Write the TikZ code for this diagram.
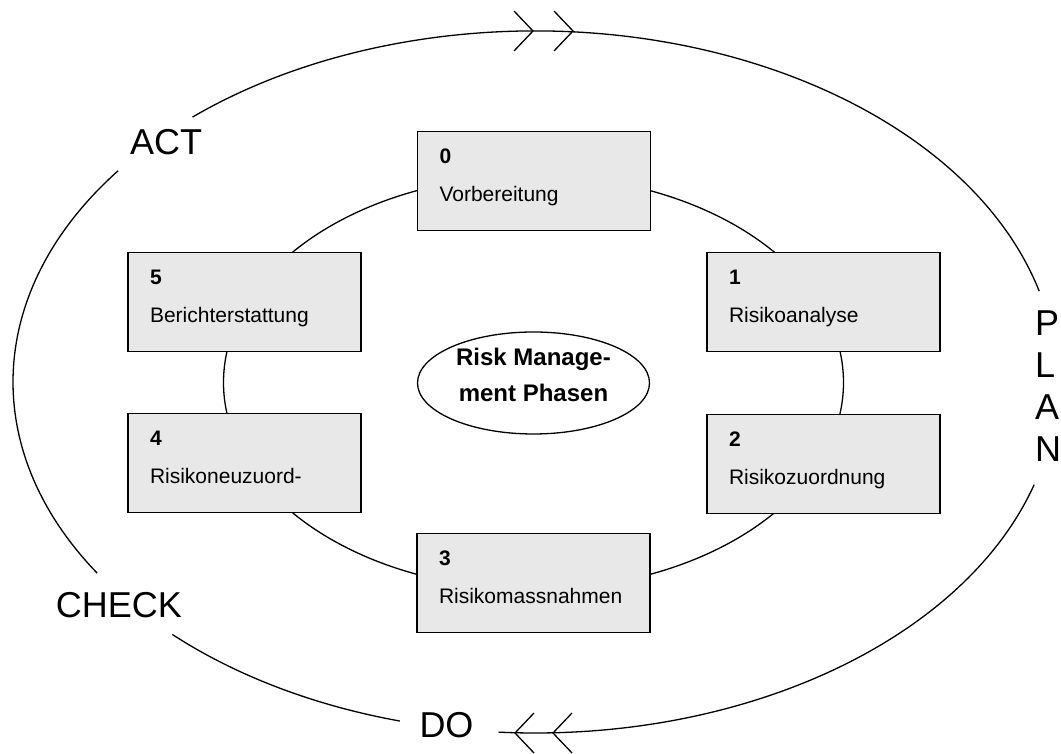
\documentclass[tikz,border=0pt]{standalone}
\usepackage{fontspec}
\setmainfont{Liberation Sans}
\usetikzlibrary{shapes.geometric}
\definecolor{phasegray}{RGB}{232,232,232}

\begin{document}
\begin{tikzpicture}[x=1pt, y=1pt,
  phasebox/.style={draw, line width=1.5pt, fill=phasegray, minimum width=233pt,
    text width=189pt, align=left, inner xsep=22pt, inner ysep=0pt,
    text height=32pt, text depth=67pt, font=\fontsize{21}{38}\selectfont},
  cyclelabel/.style={font=\fontsize{36}{42}\selectfont, inner sep=0pt},
  ringline/.style={line width=1.3pt}]
\useasboundingbox (0,0) rectangle (1061,754);
% Inner ring, behind the phase boxes
\draw[ringline] (533.5,371.5) ellipse [x radius=310, y radius=207];
% Outer PDCA ring, broken where the labels sit
\coordinate (ring) at (535,372);
\draw[ringline] (ring) ++(15:522 and 351) arc[start angle=15, end angle=131, x radius=522, y radius=351];
\draw[ringline] (ring) ++(143:522 and 351) arc[start angle=143, end angle=213, x radius=522, y radius=351];
\draw[ringline] (ring) ++(226:522 and 351) arc[start angle=226, end angle=255, x radius=522, y radius=351];
\draw[ringline] (ring) ++(266:522 and 351) arc[start angle=266, end angle=343, x radius=522, y radius=351];
% Direction marks
\draw[ringline] (514,743) -- (533,723) -- (514,703);
\draw[ringline] (554,743) -- (573,723) -- (554,703);
\draw[ringline] (534,41) -- (515,21) -- (534,1);
\draw[ringline] (572,41) -- (553,21) -- (572,1);
% Phases
\node[phasebox] (p0) at (534,573) {\textbf{0}\\Vorbereitung};
\node[phasebox] (p1) at (823.5,452) {\textbf{1}\\Risikoanalyse};
\node[phasebox] (p2) at (823.5,290) {\textbf{2}\\Risikozuordnung};
\node[phasebox] (p3) at (533.5,171) {\textbf{3}\\Risikomassnahmen};
\node[phasebox] (p4) at (244.5,291) {\textbf{4}\\Risikoneuzuord-};
\node[phasebox] (p5) at (244.5,452) {\textbf{5}\\Berichterstattung};
\node[ellipse, draw, ringline, minimum width=232pt, minimum height=102pt] (core) at (533.5,371) {};
\node[align=center, inner sep=0pt, font=\bfseries\fontsize{24}{36}\selectfont] (coretitle)
  at ([yshift=8pt]core.center) {Risk Manage-\\ment Phasen};
% PDCA labels
\node[cyclelabel, anchor=base] (act) at (166,599) {ACT};
\node[cyclelabel, anchor=base] (check) at (119,136) {CHECK};
\node[cyclelabel, anchor=base] (do) at (446.5,16) {DO};
\node[cyclelabel, anchor=west, align=left] (plan) at (1035,367.5) {P\\L\\A\\N};
\end{tikzpicture}
\end{document}
